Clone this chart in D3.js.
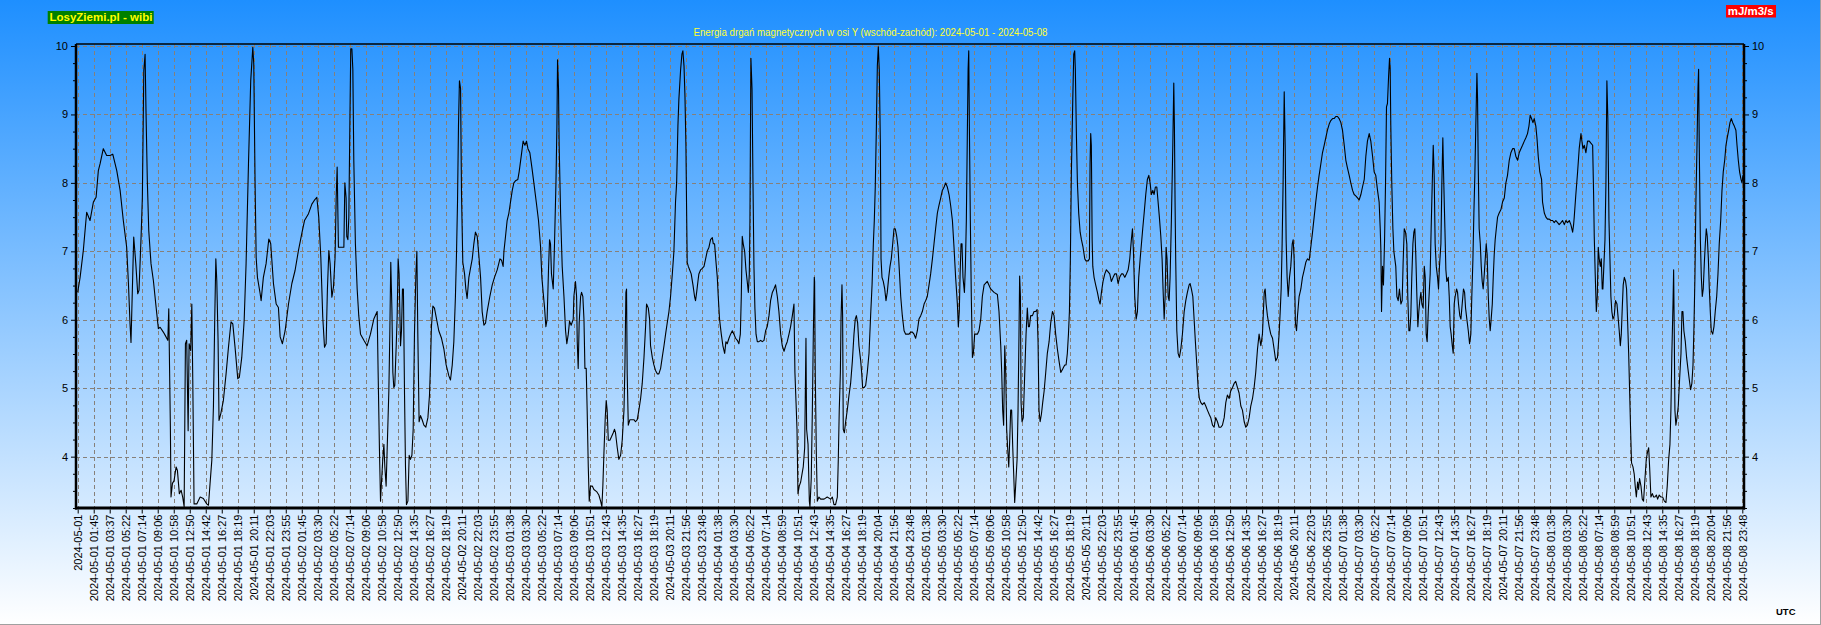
<!DOCTYPE html>
<html>
<head>
<meta charset="utf-8">
<script src="https://cdn.jsdelivr.net/npm/d3@7"></script>
<style>
  html, body { margin: 0; padding: 0; background: #fff; }
  svg { display: block; }
  text { font-family: "Liberation Sans", Arial, sans-serif; }
</style>
</head>
<body>
<svg id="chart" width="1821" height="625"></svg>
<script>
// ---------------- DATA ----------------
const titleText = "Energia drgań magnetycznych w osi Y (wschód-zachód): 2024-05-01 - 2024-05-08";
const brandText = "LosyZiemi.pl - wibi";
const unitText = "mJ/m3/s";
const tzText = "UTC";

const yTicks = [4, 5, 6, 7, 8, 9, 10];
const yDomain = [3.25, 10];

const tickDates = ["2024-05-01","2024-05-02","2024-05-03","2024-05-04","2024-05-05","2024-05-06","2024-05-07","2024-05-08"];
const tickTimes = [
  ["", "01:45","03:37","05:22","07:14","09:06","10:58","12:50","14:42","16:27","18:19","20:11","22:03","23:55"],
  ["01:45","03:30","05:22","07:14","09:06","10:58","12:50","14:35","16:27","18:19","20:11","22:03","23:55"],
  ["01:38","03:30","05:22","07:14","09:06","10:51","12:43","14:35","16:27","18:19","20:11","21:56","23:48"],
  ["01:38","03:30","05:22","07:14","08:59","10:51","12:43","14:35","16:27","18:19","20:04","21:56","23:48"],
  ["01:38","03:30","05:22","07:14","09:06","10:58","12:50","14:42","16:27","18:19","20:11","22:03","23:55"],
  ["01:45","03:30","05:22","07:14","09:06","10:58","12:50","14:35","16:27","18:19","20:11","22:03","23:55"],
  ["01:38","03:30","05:22","07:14","09:06","10:51","12:43","14:35","16:27","18:19","20:11","21:56","23:48"],
  ["01:38","03:30","05:22","07:14","08:59","10:51","12:43","14:35","16:27","18:19","20:04","21:56","23:48"]
];

// samples: [time in label-slot units (0 = 2024-05-01 00:00, 104 = 2024-05-08 23:48), energy mJ/m3/s]
const day1 = [[0.00,6.40],[0.15,6.62],[0.35,7.01],[0.56,7.57],[0.77,7.45],[0.98,7.72],[1.15,7.79],[1.29,8.18],[1.40,8.28],[1.60,8.50],[1.81,8.40],[2.02,8.40],[2.19,8.42],[2.44,8.18],[2.65,7.89],[2.85,7.45],[3.06,7.06],[3.17,6.53],[3.27,5.94],[3.33,5.67],[3.44,6.67],[3.50,7.21],[3.63,6.82],[3.75,6.38],[3.83,6.43],[3.96,7.21],[4.04,7.79],[4.13,9.64],[4.21,9.88],[4.27,9.01],[4.35,8.03],[4.44,7.30],[4.58,6.82],[4.73,6.57],[4.90,6.18],[5.04,5.87],[5.15,5.89],[5.35,5.82],[5.52,5.75],[5.63,5.70],[5.69,6.16],[5.75,5.11],[5.79,4.43],[5.83,3.41],[5.92,3.61],[6.02,3.65],[6.15,3.85],[6.23,3.80],[6.35,3.46],[6.46,3.51],[6.56,3.41],[6.65,3.27],[6.73,5.65],[6.81,5.70],[6.90,4.38],[6.96,5.65],[7.06,5.55],[7.13,6.23],[7.19,5.11],[7.27,3.31],[7.44,3.31],[7.65,3.41],[7.85,3.39],[8.06,3.31],[8.17,3.29],[8.27,3.61],[8.38,3.95],[8.48,4.73],[8.56,5.99],[8.63,6.89],[8.69,6.57],[8.77,5.70],[8.83,4.53],[8.94,4.63],[9.10,4.82],[9.27,5.21],[9.42,5.60],[9.58,5.97],[9.69,5.94],[9.83,5.60],[10.00,5.14],[10.10,5.16],[10.25,5.45],[10.40,5.99],[10.52,6.82],[10.67,8.28],[10.81,9.49],[10.94,9.98],[11.00,9.74],[11.08,8.03],[11.15,6.91],[11.23,6.62],[11.40,6.38],[11.46,6.28],[11.60,6.62],[11.77,6.82],[11.94,7.18],[12.06,7.11],[12.23,6.53],[12.40,6.23],[12.54,6.18],[12.65,5.75],[12.79,5.65],[12.96,5.84],[13.17,6.23],[13.38,6.53],[13.58,6.72],[13.79,7.01]];
const day2 = [[14.00,7.26],[14.17,7.45],[14.42,7.55],[14.63,7.69],[14.77,7.74],[14.94,7.79],[15.06,7.50],[15.19,6.91],[15.31,6.04],[15.42,5.60],[15.52,5.65],[15.60,6.43],[15.69,7.01],[15.77,6.82],[15.88,6.33],[15.98,6.48],[16.08,6.91],[16.15,7.79],[16.21,8.23],[16.29,7.06],[16.52,7.06],[16.63,7.06],[16.69,8.00],[16.77,7.78],[16.81,7.22],[16.88,7.17],[16.94,7.50],[17.00,8.77],[17.06,9.96],[17.13,9.96],[17.19,9.66],[17.25,8.33],[17.35,7.11],[17.46,6.45],[17.56,6.06],[17.67,5.79],[17.88,5.70],[18.08,5.62],[18.29,5.79],[18.50,6.01],[18.71,6.12],[18.77,5.23],[18.85,4.13],[18.92,3.35],[18.98,3.63],[19.06,3.96],[19.13,4.18],[19.19,3.85],[19.27,3.57],[19.33,4.07],[19.44,4.96],[19.50,5.79],[19.56,6.84],[19.63,6.17],[19.69,5.23],[19.75,5.01],[19.81,5.04],[19.90,5.62],[19.96,6.06],[20.02,6.89],[20.08,6.67],[20.17,5.62],[20.23,5.84],[20.29,6.45],[20.35,6.45],[20.42,4.90],[20.48,3.85],[20.54,3.30],[20.63,3.35],[20.71,4.02],[20.79,3.96],[20.88,4.02],[20.96,4.40],[21.04,5.79],[21.13,6.67],[21.19,7.00],[21.25,5.79],[21.33,4.51],[21.42,4.60],[21.52,4.54],[21.63,4.46],[21.75,4.43],[21.88,4.57],[21.98,4.90],[22.04,5.34],[22.10,5.90],[22.19,6.20],[22.29,6.17],[22.42,6.01],[22.56,5.84],[22.73,5.73],[22.88,5.57],[23.02,5.34],[23.19,5.18],[23.29,5.12],[23.40,5.34],[23.50,5.68],[23.60,6.34],[23.67,7.00],[23.73,7.72],[23.79,8.83],[23.85,9.49],[23.92,9.38],[23.98,7.83],[24.06,6.84],[24.17,6.67],[24.25,6.45],[24.33,6.31],[24.44,6.62],[24.54,6.75],[24.65,6.89],[24.75,7.11],[24.85,7.28],[24.96,7.22],[25.06,6.95],[25.17,6.62],[25.27,6.12],[25.38,5.92],[25.48,5.95],[25.58,6.12],[25.75,6.34],[25.90,6.51],[26.04,6.62],[26.21,6.73],[26.38,6.89],[26.48,6.87],[26.58,6.78],[26.63,7.00],[26.73,7.22],[26.83,7.45],[26.94,7.56]];
const day3 = [[27.04,7.72],[27.15,7.89],[27.25,8.00],[27.35,8.03],[27.50,8.05],[27.58,8.16],[27.71,8.39],[27.83,8.61],[27.94,8.55],[28.04,8.61],[28.13,8.50],[28.25,8.44],[28.38,8.22],[28.50,8.00],[28.65,7.72],[28.79,7.45],[28.92,7.06],[29.00,6.62],[29.08,6.40],[29.17,6.17],[29.25,5.90],[29.33,6.01],[29.42,6.78],[29.48,7.17],[29.54,7.11],[29.60,6.67],[29.71,6.45],[29.79,7.11],[29.88,8.00],[29.94,8.83],[29.98,9.80],[30.04,9.38],[30.08,8.55],[30.17,7.56],[30.27,6.78],[30.38,6.34],[30.48,5.84],[30.56,5.65],[30.65,5.79],[30.73,5.98],[30.83,5.92],[30.96,6.01],[31.00,6.34],[31.10,6.56],[31.17,6.34],[31.21,5.68],[31.27,5.29],[31.33,5.95],[31.42,6.34],[31.48,6.40],[31.56,6.34],[31.63,6.01],[31.69,5.29],[31.77,5.29],[31.83,4.68],[31.90,3.85],[31.96,3.35],[32.04,3.57],[32.15,3.57],[32.25,3.52],[32.42,3.49],[32.56,3.44],[32.67,3.35],[32.75,3.27],[32.81,3.57],[32.88,4.07],[32.96,4.57],[33.02,4.82],[33.08,4.68],[33.15,4.24],[33.25,4.24],[33.35,4.29],[33.46,4.35],[33.54,4.40],[33.60,4.35],[33.71,4.13],[33.81,3.96],[33.92,4.02],[34.02,4.24],[34.13,4.68],[34.19,5.34],[34.25,6.40],[34.29,6.45],[34.33,5.23],[34.40,4.46],[34.50,4.54],[34.75,4.54],[34.85,4.51],[34.96,4.54],[35.06,4.68],[35.17,4.85],[35.27,5.07],[35.38,5.45],[35.48,5.90],[35.54,6.23],[35.65,6.17],[35.73,6.01],[35.79,5.62],[35.90,5.45],[36.00,5.34],[36.10,5.26],[36.21,5.21],[36.31,5.21],[36.42,5.29],[36.52,5.45],[36.63,5.62],[36.73,5.79],[36.83,5.95],[36.94,6.12],[37.04,6.34],[37.15,6.67],[37.25,7.00],[37.35,7.72],[37.42,8.00],[37.50,8.83],[37.56,9.22],[37.67,9.66],[37.75,9.88],[37.81,9.93],[37.88,9.71],[37.94,9.27],[38.00,8.55],[38.04,7.67],[38.08,6.84],[38.15,6.78],[38.23,6.73],[38.33,6.67],[38.44,6.51],[38.54,6.34],[38.60,6.28],[38.67,6.40],[38.75,6.56],[38.81,6.67],[38.92,6.73],[39.02,6.75],[39.13,6.78],[39.23,6.89],[39.33,7.00],[39.44,7.06],[39.54,7.17],[39.65,7.20],[39.71,7.11],[39.79,7.11],[39.88,6.84],[39.96,6.62]];
const day4 = [[40.02,6.34],[40.10,6.01],[40.21,5.79],[40.31,5.62],[40.42,5.51],[40.50,5.68],[40.58,5.65],[40.69,5.73],[40.79,5.79],[40.90,5.84],[41.00,5.79],[41.10,5.73],[41.21,5.70],[41.31,5.65],[41.40,5.79],[41.46,6.34],[41.52,7.22],[41.58,7.11],[41.67,7.00],[41.75,6.73],[41.83,6.56],[41.90,6.40],[41.96,6.67],[42.00,7.45],[42.06,9.82],[42.13,9.38],[42.19,8.00],[42.25,6.78],[42.31,6.17],[42.38,5.79],[42.46,5.68],[42.56,5.68],[42.67,5.70],[42.77,5.68],[42.88,5.70],[42.98,5.84],[43.08,5.90],[43.19,6.06],[43.29,6.28],[43.40,6.40],[43.50,6.45],[43.60,6.51],[43.71,6.34],[43.81,6.12],[43.92,5.79],[44.02,5.62],[44.13,5.54],[44.23,5.62],[44.33,5.68],[44.44,5.79],[44.54,5.90],[44.65,6.06],[44.75,6.23],[44.81,5.23],[44.88,4.79],[44.94,4.40],[45.00,3.46],[45.08,3.57],[45.17,3.63],[45.25,3.74],[45.33,3.85],[45.42,4.13],[45.50,5.73],[45.54,4.40],[45.63,4.18],[45.71,3.35],[45.75,3.27],[45.83,3.68],[45.90,4.68],[45.96,5.79],[46.02,6.62],[46.04,6.56],[46.08,5.23],[46.15,4.02],[46.21,3.35],[46.31,3.41],[46.42,3.38],[46.63,3.38],[46.83,3.41],[47.04,3.38],[47.15,3.41],[47.25,3.30],[47.35,3.30],[47.46,3.41],[47.52,3.96],[47.58,4.68],[47.65,5.23],[47.69,6.01],[47.75,6.51],[47.79,6.06],[47.83,4.40],[47.90,4.35],[47.98,4.51],[48.08,4.68],[48.19,4.90],[48.29,5.07],[48.40,5.40],[48.50,5.79],[48.58,6.01],[48.65,6.06],[48.73,5.95],[48.81,5.62],[48.92,5.40],[48.98,5.23],[49.04,5.01],[49.13,5.01],[49.23,5.04],[49.33,5.23],[49.44,5.51],[49.54,6.06],[49.63,6.51],[49.71,7.11],[49.77,7.45],[49.83,7.94],[49.90,8.83],[49.96,9.71],[50.02,9.99],[50.08,9.66],[50.15,8.55],[50.19,6.89],[50.25,6.62],[50.33,6.56],[50.42,6.45],[50.50,6.28],[50.58,6.40],[50.67,6.62],[50.75,6.78],[50.83,6.89],[50.92,7.11],[51.00,7.33],[51.08,7.33],[51.17,7.22],[51.25,7.06],[51.33,6.73],[51.42,6.34],[51.52,6.06],[51.63,5.84],[51.73,5.79],[51.94,5.79],[52.04,5.82],[52.15,5.82],[52.25,5.79],[52.35,5.73],[52.46,5.84],[52.56,6.01],[52.67,6.06],[52.77,6.12],[52.88,6.23],[52.98,6.28]];
const day5 = [[53.08,6.34],[53.19,6.51],[53.29,6.67],[53.40,6.89],[53.50,7.11],[53.60,7.33],[53.71,7.56],[53.81,7.67],[53.92,7.78],[54.02,7.89],[54.13,7.94],[54.23,8.00],[54.33,7.94],[54.44,7.83],[54.54,7.67],[54.65,7.45],[54.75,7.06],[54.85,6.62],[54.96,6.23],[55.02,5.90],[55.08,6.12],[55.13,6.67],[55.19,7.11],[55.25,7.11],[55.31,6.62],[55.40,6.40],[55.46,6.78],[55.52,7.45],[55.58,8.66],[55.63,9.66],[55.67,9.93],[55.71,8.83],[55.77,7.45],[55.83,6.34],[55.90,5.45],[55.96,5.51],[56.04,5.79],[56.21,5.79],[56.31,5.84],[56.42,6.01],[56.52,6.34],[56.63,6.51],[56.83,6.56],[57.04,6.45],[57.25,6.40],[57.46,6.37],[57.56,6.12],[57.67,5.62],[57.73,5.23],[57.79,4.68],[57.85,4.46],[57.92,5.62],[57.98,5.23],[58.04,4.40],[58.10,4.13],[58.17,3.85],[58.23,4.24],[58.29,4.68],[58.35,4.68],[58.42,4.13],[58.48,3.74],[58.54,3.33],[58.60,3.57],[58.69,3.96],[58.75,4.68],[58.81,5.79],[58.85,6.64],[58.90,6.34],[58.94,4.79],[59.00,4.51],[59.08,4.57],[59.17,5.23],[59.25,5.79],[59.33,6.17],[59.40,5.90],[59.46,5.90],[59.54,6.06],[59.65,6.06],[59.75,6.12],[59.85,6.12],[59.94,6.15],[60.00,5.68],[60.06,4.68],[60.13,4.51],[60.21,4.62],[60.29,4.79],[60.38,4.96],[60.48,5.23],[60.58,5.51],[60.69,5.68],[60.79,5.95],[60.90,6.12],[61.00,6.06],[61.10,5.79],[61.21,5.57],[61.31,5.40],[61.42,5.23],[61.56,5.29],[61.67,5.34],[61.75,5.34],[61.83,5.51],[61.90,5.79],[61.96,6.12],[62.02,6.89],[62.08,8.11],[62.17,9.22],[62.23,9.88],[62.29,9.93],[62.33,9.66],[62.40,8.66],[62.46,8.00],[62.54,7.56],[62.63,7.28],[62.71,7.17],[62.81,7.06],[62.92,6.89],[63.00,6.86],[63.13,6.86],[63.21,6.89],[63.25,8.28],[63.29,8.72],[63.33,8.55],[63.38,7.17],[63.42,6.78],[63.50,6.62],[63.60,6.51],[63.71,6.40],[63.81,6.28],[63.88,6.23],[63.96,6.40],[64.06,6.56],[64.17,6.67],[64.27,6.73],[64.38,6.70],[64.48,6.67],[64.58,6.56],[64.69,6.62],[64.79,6.67],[64.90,6.67],[65.00,6.53],[65.10,6.62],[65.21,6.67],[65.31,6.67],[65.42,6.62],[65.52,6.67],[65.63,6.73],[65.73,6.89],[65.83,7.17],[65.90,7.33],[65.96,7.00]];
const day6 = [[66.04,6.34],[66.13,6.01],[66.21,6.12],[66.29,6.62],[66.38,6.89],[66.46,7.11],[66.54,7.33],[66.63,7.56],[66.73,7.83],[66.83,8.05],[66.92,8.11],[67.00,8.00],[67.08,7.83],[67.17,7.89],[67.25,7.83],[67.33,7.94],[67.42,7.94],[67.50,7.72],[67.58,7.50],[67.67,7.22],[67.75,6.89],[67.81,6.45],[67.88,6.01],[67.94,6.34],[68.00,7.06],[68.06,6.89],[68.13,6.34],[68.19,6.28],[68.25,6.62],[68.33,7.45],[68.42,8.55],[68.48,9.46],[68.52,8.83],[68.56,7.72],[68.60,6.89],[68.67,5.84],[68.75,5.51],[68.83,5.45],[68.92,5.57],[69.02,5.79],[69.13,6.12],[69.23,6.28],[69.33,6.40],[69.44,6.51],[69.50,6.53],[69.58,6.45],[69.67,6.34],[69.75,6.01],[69.83,5.68],[69.92,5.34],[70.00,5.01],[70.08,4.85],[70.17,4.79],[70.27,4.76],[70.38,4.79],[70.48,4.74],[70.58,4.68],[70.69,4.62],[70.79,4.57],[70.90,4.46],[71.00,4.43],[71.10,4.57],[71.21,4.51],[71.31,4.43],[71.42,4.43],[71.52,4.46],[71.63,4.57],[71.73,4.79],[71.83,4.90],[71.94,4.85],[72.04,4.96],[72.15,5.01],[72.25,5.07],[72.35,5.10],[72.46,5.01],[72.56,4.93],[72.67,4.74],[72.77,4.68],[72.88,4.51],[72.98,4.43],[73.08,4.46],[73.19,4.57],[73.29,4.74],[73.40,4.85],[73.50,5.01],[73.60,5.23],[73.71,5.57],[73.81,5.79],[73.92,5.62],[74.02,5.79],[74.13,6.40],[74.19,6.45],[74.25,6.23],[74.33,6.06],[74.44,5.90],[74.54,5.79],[74.65,5.73],[74.75,5.57],[74.85,5.40],[74.96,5.45],[75.06,5.79],[75.13,6.12],[75.19,6.45],[75.25,7.11],[75.31,8.00],[75.38,9.33],[75.44,8.55],[75.50,7.17],[75.56,6.62],[75.63,6.34],[75.71,6.62],[75.79,6.78],[75.88,7.11],[75.94,7.17],[76.00,6.89],[76.04,6.45],[76.08,5.95],[76.15,5.84],[76.21,6.06],[76.31,6.34],[76.42,6.45],[76.52,6.62],[76.63,6.73],[76.73,6.84],[76.83,6.89],[76.94,6.87],[77.04,7.06],[77.15,7.28],[77.25,7.50],[77.35,7.72],[77.46,7.94],[77.56,8.11],[77.67,8.28],[77.77,8.44],[77.88,8.55],[77.98,8.66],[78.08,8.77],[78.19,8.86],[78.29,8.91],[78.40,8.94],[78.50,8.94],[78.60,8.97],[78.71,8.97],[78.81,8.94],[78.92,8.88]];
const day7 = [[79.02,8.77],[79.13,8.55],[79.23,8.33],[79.33,8.22],[79.44,8.11],[79.54,8.00],[79.65,7.89],[79.75,7.83],[79.85,7.81],[79.96,7.78],[80.06,7.75],[80.17,7.83],[80.27,7.94],[80.38,8.05],[80.48,8.39],[80.58,8.61],[80.69,8.72],[80.79,8.61],[80.90,8.39],[81.00,8.16],[81.10,8.11],[81.21,7.89],[81.31,7.72],[81.38,7.33],[81.42,7.00],[81.46,6.12],[81.52,6.78],[81.58,6.51],[81.65,7.17],[81.71,8.00],[81.77,9.11],[81.83,9.16],[81.90,9.55],[81.96,9.82],[82.00,9.66],[82.04,8.83],[82.10,8.00],[82.17,7.33],[82.23,7.00],[82.29,6.89],[82.35,6.78],[82.42,6.34],[82.50,6.28],[82.58,6.45],[82.67,6.23],[82.75,6.28],[82.81,6.84],[82.88,7.33],[82.96,7.28],[83.04,7.11],[83.10,6.34],[83.17,5.84],[83.23,5.84],[83.29,6.06],[83.35,6.62],[83.42,7.11],[83.48,7.28],[83.54,7.33],[83.60,6.95],[83.67,6.34],[83.73,5.90],[83.79,6.12],[83.85,6.28],[83.92,6.40],[83.98,6.23],[84.06,6.17],[84.13,6.78],[84.19,6.62],[84.25,5.79],[84.31,5.68],[84.38,6.12],[84.44,6.40],[84.50,6.67],[84.56,7.33],[84.63,8.00],[84.69,8.55],[84.75,8.11],[84.81,7.11],[84.88,6.78],[84.96,6.62],[85.02,6.45],[85.08,6.78],[85.17,7.11],[85.23,8.00],[85.29,8.66],[85.35,8.00],[85.42,7.33],[85.48,6.73],[85.54,6.56],[85.63,6.62],[85.69,6.34],[85.75,5.90],[85.81,5.79],[85.88,5.62],[85.94,5.51],[86.00,6.23],[86.06,6.34],[86.15,6.45],[86.21,6.40],[86.27,6.23],[86.35,6.06],[86.42,6.01],[86.50,6.23],[86.58,6.45],[86.65,6.40],[86.71,6.17],[86.79,6.01],[86.88,5.84],[86.96,5.65],[87.04,5.79],[87.10,6.34],[87.17,6.89],[87.23,7.56],[87.29,8.11],[87.35,8.83],[87.42,9.60],[87.46,9.22],[87.50,8.28],[87.56,7.33],[87.63,7.11],[87.69,6.78],[87.75,6.56],[87.81,6.45],[87.88,6.67],[87.94,6.89],[88.00,7.11],[88.06,6.95],[88.13,6.34],[88.19,6.01],[88.25,5.84],[88.31,6.01],[88.38,6.23],[88.44,6.62],[88.50,6.95],[88.56,7.17],[88.63,7.33],[88.71,7.50],[88.81,7.56],[88.92,7.61],[89.02,7.72],[89.13,7.78],[89.23,8.00],[89.33,8.11],[89.44,8.33],[89.54,8.44],[89.65,8.50],[89.75,8.50],[89.85,8.39],[89.96,8.33],[90.06,8.44],[90.17,8.50],[90.27,8.55],[90.38,8.61],[90.48,8.66],[90.58,8.72],[90.67,8.83],[90.75,8.99],[90.83,8.94],[90.92,8.88],[91.00,8.94],[91.10,8.83],[91.17,8.66],[91.25,8.39],[91.35,8.16],[91.46,8.05],[91.52,7.72],[91.63,7.56],[91.73,7.50],[91.83,7.47],[91.94,7.47]];
const day8 = [[92.04,7.45],[92.15,7.45],[92.25,7.42],[92.35,7.45],[92.46,7.42],[92.56,7.39],[92.67,7.42],[92.77,7.45],[92.88,7.39],[92.98,7.45],[93.08,7.42],[93.19,7.45],[93.29,7.39],[93.40,7.28],[93.46,7.39],[93.50,7.50],[93.60,7.83],[93.71,8.16],[93.81,8.50],[93.92,8.72],[93.98,8.61],[94.04,8.50],[94.13,8.55],[94.23,8.44],[94.33,8.61],[94.44,8.61],[94.54,8.58],[94.65,8.55],[94.71,7.83],[94.75,7.22],[94.81,6.67],[94.88,6.12],[94.94,6.34],[95.00,7.06],[95.06,6.89],[95.13,6.78],[95.19,6.89],[95.25,6.45],[95.29,6.45],[95.35,6.78],[95.42,7.17],[95.48,8.00],[95.54,9.49],[95.60,8.94],[95.67,7.45],[95.73,6.89],[95.79,6.34],[95.85,6.12],[95.92,6.01],[96.00,6.06],[96.08,6.28],[96.17,6.23],[96.25,6.01],[96.31,5.84],[96.38,5.62],[96.44,5.79],[96.50,6.17],[96.56,6.51],[96.63,6.62],[96.71,6.56],[96.77,6.45],[96.83,6.01],[96.90,5.51],[96.96,4.96],[97.02,4.40],[97.08,3.91],[97.17,3.85],[97.25,3.74],[97.31,3.57],[97.38,3.41],[97.46,3.63],[97.52,3.52],[97.58,3.68],[97.67,3.57],[97.75,3.38],[97.83,3.35],[97.92,3.68],[98.00,3.96],[98.08,4.07],[98.15,4.13],[98.21,3.85],[98.29,3.41],[98.38,3.46],[98.46,3.41],[98.54,3.41],[98.63,3.44],[98.71,3.38],[98.81,3.44],[98.92,3.41],[99.02,3.41],[99.13,3.35],[99.23,3.33],[99.31,3.57],[99.40,3.96],[99.48,4.18],[99.54,4.68],[99.60,5.51],[99.67,6.23],[99.71,6.73],[99.75,5.79],[99.79,4.68],[99.85,4.46],[99.92,4.57],[100.00,4.74],[100.08,5.12],[100.17,5.51],[100.23,6.12],[100.29,6.12],[100.35,5.84],[100.44,5.68],[100.52,5.45],[100.60,5.29],[100.69,5.12],[100.77,4.98],[100.85,5.07],[100.92,5.34],[100.98,5.90],[101.04,6.62],[101.10,7.72],[101.17,8.55],[101.23,9.38],[101.27,9.66],[101.31,8.55],[101.38,7.17],[101.44,6.62],[101.50,6.34],[101.56,6.45],[101.63,6.84],[101.69,7.11],[101.75,7.33],[101.81,7.22],[101.88,6.89],[101.94,6.45],[102.00,6.12],[102.06,5.84],[102.15,5.79],[102.23,5.90],[102.31,6.12],[102.40,6.34],[102.48,6.67],[102.56,7.11],[102.65,7.45],[102.73,7.89],[102.81,8.16],[102.90,8.33],[102.98,8.55],[103.06,8.66],[103.15,8.77],[103.23,8.88],[103.31,8.94],[103.40,8.88],[103.50,8.83],[103.60,8.77],[103.67,8.55],[103.75,8.33],[103.83,8.16],[103.92,8.05],[103.98,8.00],[104.04,8.11]];

// ---------------- DRAW ----------------
const W = 1821, H = 625;
const svg = d3.select("#chart");

const tickLabels = [];
tickDates.forEach((d, i) => tickTimes[i].forEach(t => tickLabels.push(t ? d + " " + t : d)));
const slots = d3.range(tickLabels.length);

const samples = [].concat(day1, day2, day3, day4, day5, day6, day7, day8);

const frame = { left: 76, right: 1744, top: 44, bottom: 508 };
const x = d3.scaleLinear().domain([0, tickLabels.length - 1]).range([77.7, 1742.3]);
const y = d3.scaleLinear().domain(yDomain).range([frame.bottom, 46]);

// background gradient
const defs = svg.append("defs");
const grad = defs.append("linearGradient").attr("id", "bg").attr("x1", 0).attr("y1", 0).attr("x2", 0).attr("y2", 1);
grad.append("stop").attr("offset", "0%").attr("stop-color", "#1e8fff");
grad.append("stop").attr("offset", "100%").attr("stop-color", "#ffffff");
svg.append("rect").attr("width", W).attr("height", H).attr("fill", "url(#bg)");
// window bevel
svg.append("line").attr("x1", 0).attr("x2", W).attr("y1", H - 0.5).attr("y2", H - 0.5).attr("stroke", "#a0a0a0");
svg.append("line").attr("x1", W - 0.5).attr("x2", W - 0.5).attr("y1", 0).attr("y2", H).attr("stroke", "#a0a0a0");

defs.append("clipPath").attr("id", "plotclip").append("rect")
  .attr("x", frame.left).attr("y", frame.top).attr("width", frame.right - frame.left).attr("height", frame.bottom - frame.top);

// grid
const gridColor = "#878079";
const grid = svg.append("g");
grid.selectAll("line.v").data(slots).join("line").attr("class", "v")
  .attr("x1", d => Math.round(x(d)) + 0.5).attr("x2", d => Math.round(x(d)) + 0.5)
  .attr("y1", frame.top).attr("y2", frame.bottom)
  .attr("stroke", gridColor).attr("stroke-width", 1).attr("stroke-dasharray", "4,3");
grid.selectAll("line.h").data(yTicks).join("line").attr("class", "h")
  .attr("x1", frame.left).attr("x2", frame.right)
  .attr("y1", d => Math.round(y(d)) + 0.5).attr("y2", d => Math.round(y(d)) + 0.5)
  .attr("stroke", gridColor).attr("stroke-width", 1).attr("stroke-dasharray", "4,3");

// data line
const line = d3.line().x(d => x(d[0])).y(d => y(d[1]));
svg.append("path").datum(samples)
  .attr("clip-path", "url(#plotclip)")
  .attr("d", line).attr("fill", "none").attr("stroke", "#000").attr("stroke-width", 1.1)
  .attr("stroke-linejoin", "round");

// frame
svg.append("line").attr("x1", frame.left).attr("x2", frame.right).attr("y1", frame.top).attr("y2", frame.top).attr("stroke", "#000").attr("stroke-width", 1.3);
svg.append("line").attr("x1", frame.left).attr("x2", frame.left).attr("y1", frame.top).attr("y2", frame.bottom + 1.5).attr("stroke", "#000").attr("stroke-width", 2.5);
svg.append("line").attr("x1", frame.right).attr("x2", frame.right).attr("y1", frame.top).attr("y2", frame.bottom + 1.5).attr("stroke", "#000").attr("stroke-width", 2.5);
svg.append("line").attr("x1", frame.left - 1).attr("x2", frame.right + 1).attr("y1", frame.bottom).attr("y2", frame.bottom).attr("stroke", "#000").attr("stroke-width", 3);

// axes
const minorTicks = d3.range(yDomain[0], yDomain[1] + 0.001, 0.25).filter(v => Math.abs(v - Math.round(v)) > 0.01);
function styleAxis(g) {
  g.select(".domain").remove();
  g.selectAll("line").attr("stroke", "#000");
  g.selectAll("text").attr("fill", "#000").style("font-family", "'Liberation Sans', Arial, sans-serif").style("font-size", "11px");
}
svg.append("g").attr("transform", `translate(${frame.left - 1},0)`)
  .call(d3.axisLeft(y).tickValues(yTicks).tickSize(4).tickPadding(3).tickFormat(d3.format("d"))).call(styleAxis);
svg.append("g").attr("transform", `translate(${frame.left - 1},0)`)
  .call(d3.axisLeft(y).tickValues(minorTicks).tickSize(2).tickFormat("")).call(styleAxis);
svg.append("g").attr("transform", `translate(${frame.right + 1},0)`)
  .call(d3.axisRight(y).tickValues(yTicks).tickSize(4).tickPadding(3).tickFormat(d3.format("d"))).call(styleAxis);
svg.append("g").attr("transform", `translate(${frame.right + 1},0)`)
  .call(d3.axisRight(y).tickValues(minorTicks).tickSize(2).tickFormat("")).call(styleAxis);

const xAxis = svg.append("g").attr("transform", `translate(0,${frame.bottom + 1.5})`)
  .call(d3.axisBottom(x).tickValues(slots).tickSize(4).tickFormat(i => tickLabels[i])).call(styleAxis);
xAxis.selectAll("text")
  .attr("transform", "rotate(-90)")
  .attr("text-anchor", "end")
  .attr("x", -5).attr("y", 0).attr("dy", "0.35em");

// title
svg.append("text").attr("x", 870.5).attr("y", 35.5).attr("text-anchor", "middle")
  .attr("fill", "#ffff33").style("font-size", "11px")
  .attr("textLength", 354).attr("lengthAdjust", "spacingAndGlyphs")
  .text(titleText);

// brand badge
svg.append("rect").attr("x", 47.7).attr("y", 11).attr("width", 106).attr("height", 13).attr("fill", "#008000");
svg.append("text").attr("x", 49.5).attr("y", 21.3).attr("fill", "#ffff00")
  .style("font-size", "11.5px").style("font-weight", "bold").text(brandText);

// unit badge
svg.append("rect").attr("x", 1726).attr("y", 5).attr("width", 50).attr("height", 12.5).attr("fill", "#ff0000");
svg.append("text").attr("x", 1727.7).attr("y", 15.3).attr("fill", "#ffffff")
  .style("font-size", "11.5px").style("font-weight", "bold").text(unitText);

// UTC
svg.append("text").attr("x", 1776).attr("y", 615).attr("fill", "#000")
  .style("font-size", "9.5px").style("font-weight", "bold").text(tzText);
</script>
</body>
</html>
